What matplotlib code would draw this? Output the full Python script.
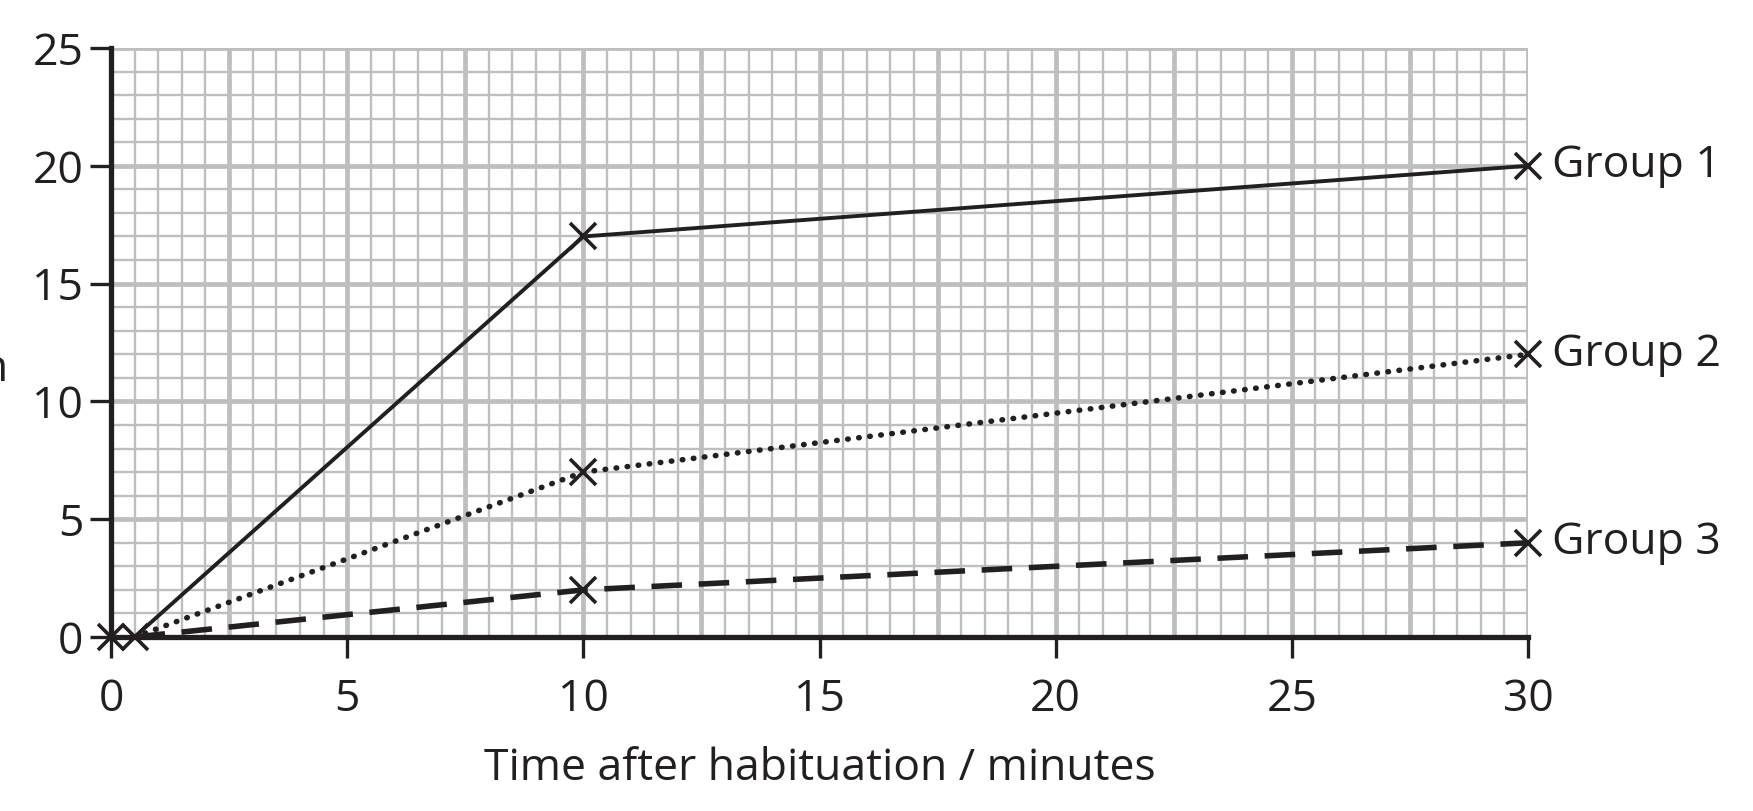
import matplotlib
matplotlib.use("Agg")
import matplotlib.pyplot as plt
import numpy as np

plt.rcParams['font.family'] = ['Open Sans', 'DejaVu Sans']

# data
time = [0.5, 10, 30]
group_1 = [0, 17, 20]
group_2 = [0, 7, 12]
group_3 = [0, 2, 4]
origin_x = [0, 0.5]
origin_y = [0, 0]
group_names = ["Group 1", "Group 2", "Group 3"]
x_ticks = [0, 5, 10, 15, 20, 25, 30]
y_ticks = [0, 5, 10, 15, 20, 25]

ink = "#231f20"
grid_col = "#bdbec0"

fig = plt.figure(figsize=(17.53, 8.11), dpi=100)
ax = fig.add_axes([111 / 1753, 1 - 637 / 811, (1528 - 111) / 1753, (637 - 48) / 811])

ax.set_xlim(0, 30)
ax.set_ylim(0, 25)

# graph paper grid
for x in np.arange(0, 30.01, 0.5):
    major = abs(x / 2.5 - round(x / 2.5)) < 1e-6
    ax.axvline(x, color=grid_col, lw=3.4 if major else 1.7, zorder=0)
for y in np.arange(0, 25.01, 1):
    major = int(y) % 5 == 0
    ax.axhline(y, color=grid_col, lw=3.4 if major else 1.7, zorder=0)

styles = [
    dict(linestyle="-", lw=2.8),
    dict(linestyle=(0, (0.1, 1.9)), lw=4.0, dash_capstyle="round"),
    dict(linestyle=(0, (5.5, 3.0)), lw=4.0),
]
for vals, name, st in zip([group_1, group_2, group_3], group_names, styles):
    ax.plot(time, vals, color=ink, zorder=3, clip_on=False, **st)
    ax.plot(time[1:], vals[1:], linestyle="none", marker="x", ms=19, mew=2.6,
            color=ink, zorder=4, clip_on=False)
    ax.annotate(name, (time[-1], vals[-1]), xytext=(17, 0), textcoords="offset points",
                fontsize=32, color=ink, va="center", ha="left", annotation_clip=False)

ax.plot(origin_x, origin_y, linestyle="none", marker="x", ms=19, mew=2.6,
        color=ink, zorder=4, clip_on=False)

for s in ["top", "right"]:
    ax.spines[s].set_visible(False)
for s in ["left", "bottom"]:
    ax.spines[s].set_linewidth(3.8)
    ax.spines[s].set_color(ink)
    ax.spines[s].set_zorder(5)

ax.set_xticks(x_ticks)
ax.set_yticks(y_ticks)
ax.tick_params(direction="out", length=15, width=2.4, color=ink, labelcolor=ink,
               labelsize=32)
ax.tick_params(axis="x", pad=14)
ax.tick_params(axis="y", pad=5)
ax.set_xlabel("Time after habituation / minutes", fontsize=32, color=ink, labelpad=18)

# clipped remains of the y-axis label at the left edge
fig.text(8 / 1753, 1 - 370 / 811, "n", fontsize=32, color=ink, ha="right", va="center")

fig.savefig("out.png", dpi=100)
